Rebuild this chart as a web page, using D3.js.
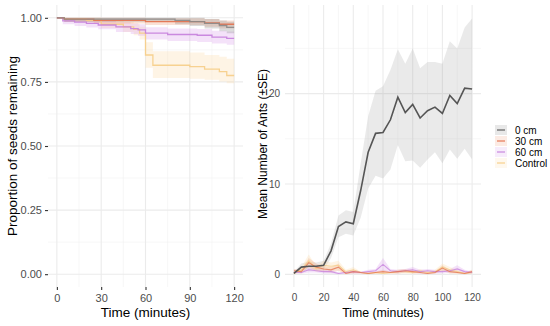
<!DOCTYPE html>
<html>
<head>
<meta charset="utf-8">
<script src="https://cdn.jsdelivr.net/npm/d3@7"></script>
<style>
  body { margin: 0; background: #fff; }
  svg { font-family: "Liberation Sans", Arial, sans-serif; }
</style>
</head>
<body>
<svg id="chart" width="550" height="326"></svg>
<script>
// ---- data ----
var groups = ["0 cm", "30 cm", "60 cm", "Control"];
var colors = { "0 cm": "#555555", "30 cm": "#e3704c", "60 cm": "#c57fdc", "Control": "#f6cd86" };
var bandColors = { "0 cm": "#8c8c8c", "30 cm": "#f09a78", "60 cm": "#d9a0ec", "Control": "#fbdca8" };

// left panel: step curves (time, proportion, lower, upper)
var survTime = {
  "0 cm":    [0, 5, 80, 90, 100, 110, 115, 120],
  "30 cm":   [0, 5, 25, 60, 100, 110, 120],
  "60 cm":   [0, 4, 12, 20, 28, 40, 50, 55, 60, 75, 95, 105, 115, 120],
  "Control": [0, 5, 20, 30, 45, 52, 56, 60, 65, 90, 100, 110, 115, 120]
};
var survProp = {
  "0 cm":    [1, 0.995, 0.99, 0.985, 0.978, 0.97, 0.963, 0.963],
  "30 cm":   [1, 0.995, 0.99, 0.985, 0.98, 0.975, 0.975],
  "60 cm":   [1, 0.988, 0.983, 0.978, 0.972, 0.965, 0.958, 0.953, 0.94, 0.935, 0.932, 0.925, 0.92, 0.92],
  "Control": [1, 0.995, 0.99, 0.975, 0.965, 0.955, 0.94, 0.855, 0.815, 0.81, 0.8, 0.79, 0.775, 0.775]
};
var survLow = {
  "0 cm":    [1, 0.985, 0.975, 0.968, 0.958, 0.948, 0.94, 0.94],
  "30 cm":   [1, 0.985, 0.978, 0.972, 0.965, 0.958, 0.958],
  "60 cm":   [1, 0.975, 0.968, 0.962, 0.955, 0.945, 0.937, 0.93, 0.915, 0.91, 0.906, 0.9, 0.895, 0.895],
  "Control": [1, 0.985, 0.978, 0.96, 0.945, 0.932, 0.915, 0.805, 0.765, 0.762, 0.758, 0.752, 0.745, 0.745]
};
var survHigh = {
  "0 cm":    [1, 1, 1, 1, 0.995, 0.99, 0.985, 0.985],
  "30 cm":   [1, 1, 1, 0.998, 0.995, 0.99, 0.99],
  "60 cm":   [1, 0.998, 0.995, 0.992, 0.988, 0.983, 0.978, 0.975, 0.963, 0.958, 0.956, 0.95, 0.947, 0.947],
  "Control": [1, 1, 1, 0.99, 0.985, 0.978, 0.965, 0.905, 0.87, 0.865, 0.855, 0.848, 0.84, 0.84]
};

// right panel: mean number of ants every 5 minutes
var antTime = [0, 5, 10, 15, 20, 25, 30, 35, 40, 45, 50, 55, 60, 65, 70, 75, 80, 85, 90, 95, 100, 105, 110, 115, 120];
var antMean = {
  "0 cm":    [0.1, 0.8, 0.9, 0.9, 1.0, 2.6, 5.3, 5.8, 5.6, 9.3, 13.5, 15.6, 15.7, 17.1, 19.6, 17.9, 18.8, 17.3, 18.1, 18.5, 17.8, 19.8, 18.9, 20.6, 20.5],
  "30 cm":   [0.4, 0.3, 1.3, 0.8, 0.6, 0.5, 0.8, 0.1, 0.3, 0.2, 0.1, 0.2, 0.3, 0.2, 0.3, 0.4, 0.3, 0.2, 0.1, 0.2, 0.7, 0.3, 0.2, 0.1, 0.3],
  "60 cm":   [0.2, 0.2, 0.5, 0.4, 0.3, 0.3, 0.1, 0.2, 0.3, 0.2, 0.3, 0.4, 1.1, 0.4, 0.3, 0.4, 0.5, 0.3, 0.4, 0.3, 0.3, 0.4, 0.6, 0.3, 0.2],
  "Control": [0.1, 0.5, 1.5, 0.6, 1.0, 0.9, 1.0, 0.3, 0.5, 0.2, 0.1, 0.2, 0.1, 0.2, 0.3, 0.3, 0.2, 0.4, 0.2, 0.3, 0.8, 0.5, 0.3, 0.1, 0.2]
};
var antSE = {
  "0 cm":    [0.2, 0.4, 0.5, 0.4, 0.5, 0.8, 1.2, 1.3, 1.3, 3.0, 4.0, 4.7, 5.1, 5.5, 5.3, 5.4, 6.2, 5.5, 5.4, 5.0, 5.5, 6.0, 6.1, 6.7, 7.8],
  "30 cm":   [0.2, 0.2, 0.5, 0.4, 0.3, 0.3, 0.4, 0.1, 0.2, 0.1, 0.1, 0.1, 0.2, 0.1, 0.2, 0.2, 0.2, 0.1, 0.1, 0.1, 0.3, 0.2, 0.1, 0.1, 0.2],
  "60 cm":   [0.1, 0.1, 0.3, 0.2, 0.2, 0.2, 0.1, 0.1, 0.2, 0.1, 0.2, 0.2, 0.7, 0.2, 0.2, 0.2, 0.3, 0.2, 0.2, 0.2, 0.2, 0.2, 0.4, 0.2, 0.1],
  "Control": [0.1, 0.3, 0.7, 0.3, 0.5, 0.4, 0.5, 0.2, 0.3, 0.1, 0.1, 0.1, 0.1, 0.1, 0.2, 0.2, 0.1, 0.2, 0.1, 0.2, 0.4, 0.3, 0.2, 0.1, 0.1]
};

var survTicksX = [0, 30, 60, 90, 120];
var survTicksY = [0, 0.25, 0.5, 0.75, 1];
var antTicksX = [0, 20, 40, 60, 80, 100, 120];
var antTicksY = [0, 10, 20];

// ---- drawing ----
var svg = d3.select("#chart");
var panelTop = 5, panelBottom = 287;

function grid(g, x, y, xMajor, xMinor, yMajor, yMinor) {
  var [x0, x1] = x.range();
  var [y0, y1] = y.range();
  g.append("g").selectAll("line").data(xMinor).join("line")
    .attr("x1", d => x(d)).attr("x2", d => x(d)).attr("y1", y0).attr("y2", y1)
    .attr("stroke", "#f2f2f2").attr("stroke-width", 0.6);
  g.append("g").selectAll("line").data(yMinor).join("line")
    .attr("y1", d => y(d)).attr("y2", d => y(d)).attr("x1", x0).attr("x2", x1)
    .attr("stroke", "#f2f2f2").attr("stroke-width", 0.6);
  g.append("g").selectAll("line").data(xMajor).join("line")
    .attr("x1", d => x(d)).attr("x2", d => x(d)).attr("y1", y0).attr("y2", y1)
    .attr("stroke", "#ebebeb").attr("stroke-width", 1.1);
  g.append("g").selectAll("line").data(yMajor).join("line")
    .attr("y1", d => y(d)).attr("y2", d => y(d)).attr("x1", x0).attr("x2", x1)
    .attr("stroke", "#ebebeb").attr("stroke-width", 1.1);
}

// opts: ticks (bool), tickFont, titleFont, yTitleX
function axes(x, y, xTicks, yTicks, yFormat, opts, xTitle, yTitle) {
  var tick = opts.ticks ? 3 : 0;
  var xa = svg.append("g")
    .attr("transform", `translate(0, ${panelBottom})`)
    .call(d3.axisBottom(x).tickValues(xTicks).tickSize(tick).tickPadding(opts.ticks ? 4 : 7))
  xa.select(".domain").remove();
  xa.selectAll("line").attr("stroke", "#333").attr("stroke-width", 1.1);
  xa.selectAll("text").attr("fill", "#4d4d4d").attr("font-size", opts.tickFont).attr("font-family", "");

  var ya = svg.append("g")
    .attr("transform", `translate(${x.range()[0]}, 0)`)
    .call(d3.axisLeft(y).tickValues(yTicks).tickFormat(yFormat).tickSize(tick).tickPadding(opts.ticks ? 3 : 5))
  ya.select(".domain").remove();
  ya.selectAll("line").attr("stroke", "#333").attr("stroke-width", 1.1);
  ya.selectAll("text").attr("fill", "#4d4d4d").attr("font-size", opts.tickFont).attr("font-family", "");

  svg.append("text")
    .attr("x", (x.range()[0] + x.range()[1]) / 2).attr("y", 317)
    .attr("text-anchor", "middle").attr("font-size", opts.titleFont).attr("fill", "#000")
    .text(xTitle);
  svg.append("text")
    .attr("transform", `translate(${opts.yTitleX}, ${opts.yTitleY}) rotate(-90)`)
    .attr("text-anchor", "middle").attr("font-size", opts.yTitleFont).attr("fill", "#000")
    .text(yTitle);
}

// left panel
var xS = d3.scaleLinear().domain([-6, 126]).range([48, 243]);
var yS = d3.scaleLinear().domain([-0.05, 1.05]).range([panelBottom, panelTop]);

grid(svg.append("g"), xS, yS, survTicksX, [15, 45, 75, 105], survTicksY, [0.125, 0.375, 0.625, 0.875]);

var survSeries = groups.map(k => ({
  key: k,
  values: survTime[k].map((t, i) => ({ t: t, p: survProp[k][i], lo: survLow[k][i], hi: survHigh[k][i] }))
}));

var survArea = d3.area().curve(d3.curveStepAfter)
  .x(d => xS(d.t)).y0(d => yS(d.lo)).y1(d => yS(d.hi));
var survLine = d3.line().curve(d3.curveStepAfter)
  .x(d => xS(d.t)).y(d => yS(d.p));

svg.append("g").selectAll("path").data(survSeries.slice().reverse()).join("path")
  .attr("fill", d => bandColors[d.key]).attr("fill-opacity", 0.3)
  .attr("d", d => survArea(d.values));
svg.append("g").selectAll("path").data(survSeries.slice().reverse()).join("path")
  .attr("fill", "none").attr("stroke", d => d.key === "0 cm" ? "#8a8a8a" : colors[d.key])
  .attr("stroke-width", 1.3).attr("stroke-opacity", 0.9)
  .attr("d", d => survLine(d.values));

axes(xS, yS, survTicksX, survTicksY, d3.format(".2f"),
  { ticks: true, tickFont: 11, titleFont: 13.5, yTitleFont: 13.5, yTitleX: 17, yTitleY: 146 },
  "Time (minutes)", "Proportion of seeds remaining");

// right panel
var xA = d3.scaleLinear().domain([-6, 126]).range([285, 481]);
var yA = d3.scaleLinear().domain([-1.4, 29.8]).range([panelBottom, panelTop]);

grid(svg.append("g"), xA, yA, antTicksX, [10, 30, 50, 70, 90, 110], antTicksY, [5, 15, 25]);

var antSeries = groups.map(k => ({
  key: k,
  values: antTime.map((t, i) => ({ t: t, m: antMean[k][i], se: antSE[k][i] }))
}));

var antArea = d3.area()
  .x(d => xA(d.t)).y0(d => yA(Math.max(0, d.m - d.se))).y1(d => yA(d.m + d.se));
var antLine = d3.line()
  .x(d => xA(d.t)).y(d => yA(d.m));

svg.append("g").selectAll("path").data(antSeries).join("path")
  .attr("fill", d => bandColors[d.key]).attr("fill-opacity", d => d.key === "0 cm" ? 0.18 : 0.3)
  .attr("d", d => antArea(d.values));
svg.append("g").selectAll("path").data(antSeries.slice().reverse()).join("path")
  .attr("fill", "none").attr("stroke", d => colors[d.key])
  .attr("stroke-width", d => d.key === "0 cm" ? 1.6 : 1.1)
  .attr("stroke-opacity", d => d.key === "0 cm" ? 1 : 0.75)
  .attr("d", d => antLine(d.values));

axes(xA, yA, antTicksX, antTicksY, d3.format("d"),
  { ticks: false, tickFont: 10, titleFont: 12.3, yTitleFont: 12, yTitleX: 267, yTitleY: 144 },
  "Time (minutes)", "Mean Number of Ants (\u00b1SE)");

// legend
var legend = svg.append("g").attr("transform", "translate(495, 130)");
var item = legend.selectAll("g").data(groups).join("g")
  .attr("transform", (d, i) => `translate(0, ${i * 11})`);
item.append("rect")
  .attr("x", 0).attr("y", -5).attr("width", 12).attr("height", 10)
  .attr("fill", d => bandColors[d]).attr("fill-opacity", 0.2);
item.append("line")
  .attr("x1", 2).attr("x2", 10).attr("y1", 0).attr("y2", 0)
  .attr("stroke", d => colors[d]).attr("stroke-width", 1.4).attr("stroke-opacity", 0.8);
item.append("text")
  .attr("x", 20).attr("y", 0).attr("dy", "0.35em")
  .attr("font-size", 10).attr("fill", "#000")
  .text(d => d);
</script>
</body>
</html>
